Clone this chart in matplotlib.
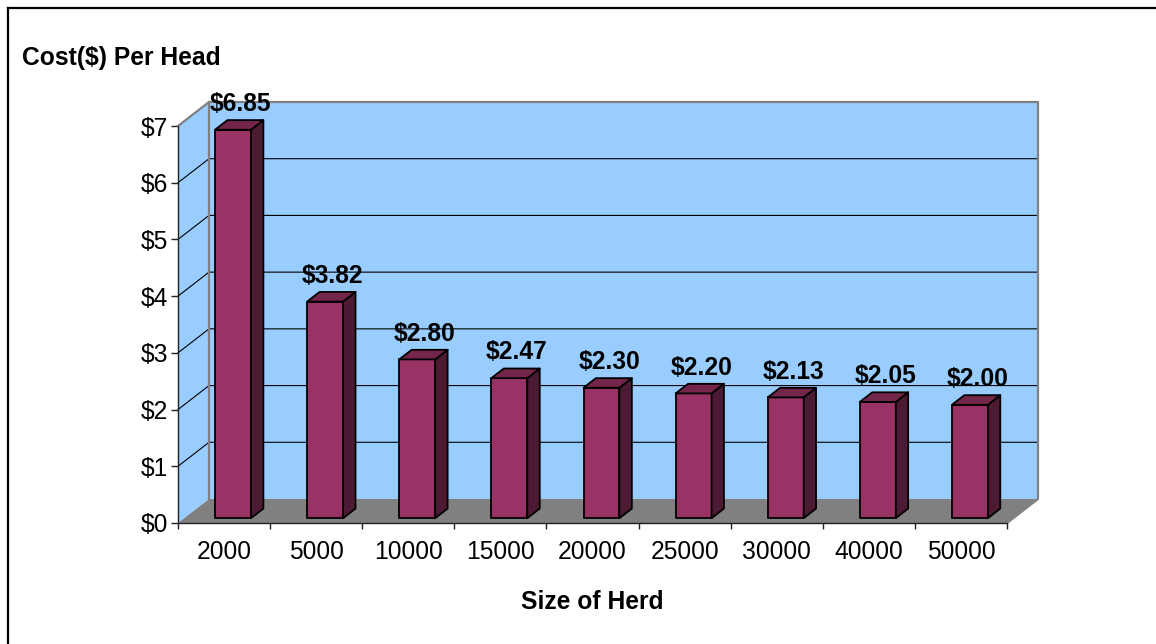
import matplotlib
matplotlib.use("Agg")
import matplotlib.pyplot as plt
from matplotlib.patches import Polygon
from matplotlib.lines import Line2D

plt.rcParams['font.family'] = ['Liberation Sans', 'DejaVu Sans']

# herd sizes and cost per head
herd_sizes = ['2000', '5000', '10000', '15000', '20000', '25000', '30000', '40000', '50000']
cost_per_head = [6.85, 3.82, 2.80, 2.47, 2.30, 2.20, 2.13, 2.05, 2.00]
y_ticks = [0, 1, 2, 3, 4, 5, 6, 7]
y_labels = ['$%d' % v for v in y_ticks]

W, H, DPI = 1156, 644, 100
FS = 17.7

# fake 3d: depth shift of the back wall, in data units
DX = 31 / 92.1
DY = 24 / 56.7


def proj(x, y, z):
    return x + z * DX, y + z * DY


fig = plt.figure(figsize=(W / DPI, H / DPI), dpi=DPI)
ax = fig.add_axes([178 / W, 121 / H, 829 / W, 397 / H])
ax.set_xlim(0, len(herd_sizes))
ax.set_ylim(0, 7)
ax.patch.set_visible(False)
for s in ['top', 'right']:
    ax.spines[s].set_visible(False)
for s in ['left', 'bottom']:
    ax.spines[s].set_color('#222222')
    ax.spines[s].set_linewidth(1.0)

n = len(herd_sizes)
wall_col = '#99ccff'
grey = '#808080'

# side wall, back wall and floor
side = [proj(0, 0, 0), proj(0, 0, 1), proj(0, 7, 1), proj(0, 7, 0)]
back = [proj(0, 0, 1), proj(n, 0, 1), proj(n, 7, 1), proj(0, 7, 1)]
floor = [proj(0, 0, 0), proj(n, 0, 0), proj(n, 0, 1), proj(0, 0, 1)]
ax.add_patch(Polygon(side, closed=True, fc=wall_col, ec='none', clip_on=False, zorder=1))
ax.add_patch(Polygon(back, closed=True, fc=wall_col, ec='none', clip_on=False, zorder=1))
ax.add_patch(Polygon(floor, closed=True, fc=grey, ec='none', clip_on=False, zorder=1))

# gridlines on the back wall and the side wall
for v in y_ticks[1:-1]:
    xs, ys = zip(proj(0, v, 0), proj(0, v, 1), proj(n, v, 1))
    ax.add_line(Line2D(xs, ys, color='black', lw=0.8, clip_on=False, zorder=1.5))

# wall borders
xs, ys = zip(proj(0, 7, 0), proj(0, 7, 1), proj(n, 7, 1), proj(n, 0, 1), proj(n, 0, 0))
ax.add_line(Line2D(xs, ys, color=grey, lw=1.6, clip_on=False, zorder=1.6))
xs, ys = zip(proj(0, 0, 1), proj(0, 7, 1))
ax.add_line(Line2D(xs, ys, color=grey, lw=1.6, clip_on=False, zorder=1.6))

# bars
z0, z1 = 0.2, 0.6
bar_off, bar_w = 0.335, 0.39
front_col, side_col, top_col = '#993366', '#4d1a33', '#732649'
for i, v in enumerate(cost_per_head):
    x0 = i + bar_off
    x1 = x0 + bar_w
    front = [proj(x0, 0, z0), proj(x1, 0, z0), proj(x1, v, z0), proj(x0, v, z0)]
    right = [proj(x1, 0, z0), proj(x1, 0, z1), proj(x1, v, z1), proj(x1, v, z0)]
    top = [proj(x0, v, z0), proj(x1, v, z0), proj(x1, v, z1), proj(x0, v, z1)]
    for pts, c in [(front, front_col), (right, side_col), (top, top_col)]:
        ax.add_patch(Polygon(pts, closed=True, fc=c, ec='black', lw=1.3,
                             joinstyle='round', clip_on=False, zorder=3))
    lx, ly = proj(x0 + bar_w / 2, v, 0.4)
    ax.annotate('$%.2f' % v, (lx, ly), xytext=(1, 15), textcoords='offset points',
                ha='center', va='center', fontsize=FS, fontweight='bold',
                annotation_clip=False, zorder=4)

# axes ticks and labels
ax.set_yticks(y_ticks)
ax.set_yticklabels(y_labels, fontsize=FS)
ax.tick_params(axis='y', length=5, width=1, pad=2, color='#222222')
ax.set_xticks([i + 0.5 for i in range(n)])
ax.set_xticklabels(herd_sizes, fontsize=FS)
ax.set_xticks(range(n + 1), minor=True)
ax.tick_params(axis='x', which='major', length=0, pad=12)
ax.tick_params(axis='x', which='minor', length=4.5, width=1, color='#222222')
ax.set_xlabel('Size of Herd', fontsize=FS, fontweight='bold', labelpad=19)

fig.text(22 / W, 1 - 58 / H, 'Cost($) Per Head', fontsize=FS, fontweight='bold',
         ha='left', va='center')

# chart frame
fig.add_artist(Line2D([7.5 / W, 7.5 / W], [0, 1 - 7.5 / H], color='black', lw=1.6,
                      transform=fig.transFigure))
fig.add_artist(Line2D([7.5 / W, 1], [1 - 7.5 / H, 1 - 7.5 / H], color='black', lw=1.6,
                      transform=fig.transFigure))

fig.savefig('out.png', dpi=DPI)
